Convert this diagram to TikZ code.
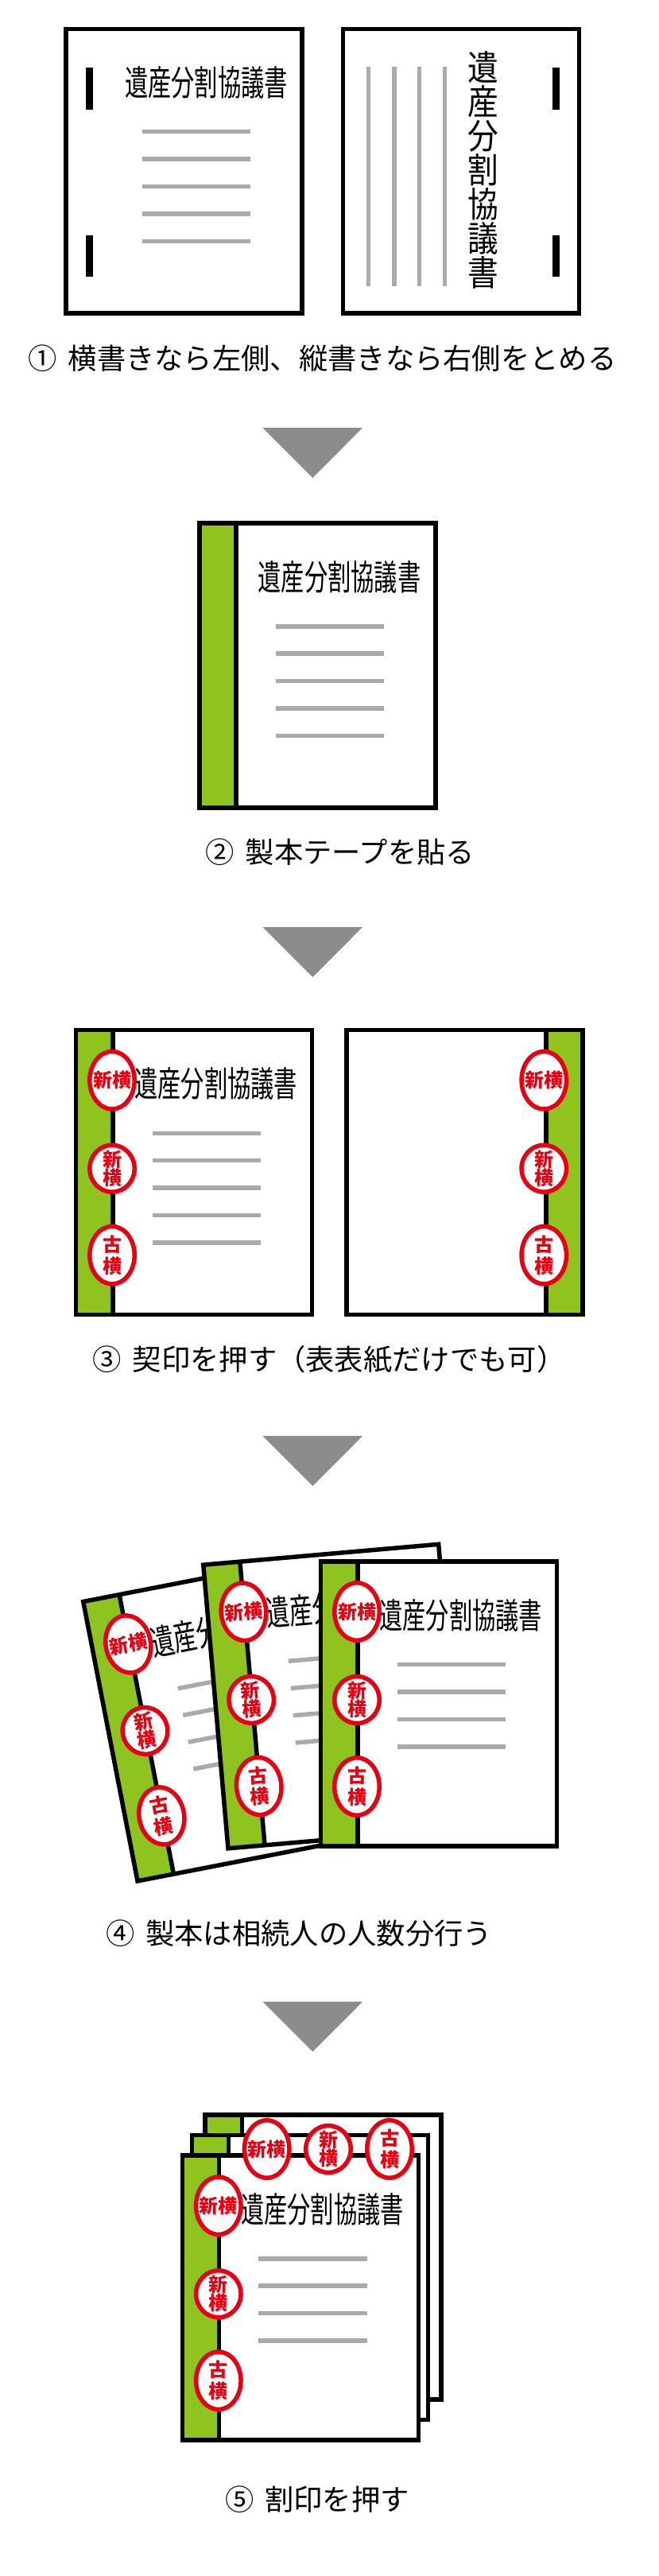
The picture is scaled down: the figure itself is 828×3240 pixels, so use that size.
\documentclass[tikz,border=0pt]{standalone}
\usepackage{fontspec}
\setmainfont{Noto Sans CJK JP}
\newfontfamily\narrowfont[FakeStretch=0.665]{Noto Sans CJK JP}
\newfontfamily\uprightfont[FakeStretch=0.88]{Noto Sans CJK JP}
\usetikzlibrary{shapes.geometric}
\definecolor{tapegreen}{HTML}{8FC31F}
\definecolor{stampred}{HTML}{E60012}
\definecolor{linegray}{HTML}{AAAAAA}
\definecolor{arrowgray}{HTML}{8C8C8C}
\tikzset{
    pageframe/.style={line width=5.5pt},
    textline/.style={linegray, line width=5.5pt},
    titlelabel/.style={inner sep=0pt, font=\fontsize{44}{44}\selectfont\narrowfont},
    captionlabel/.style={inner sep=0pt, font=\fontsize{36.3}{40}\selectfont},
    stamptall/.style={ellipse, draw=stampred, fill=white, line width=5.5pt, inner sep=0pt,
        minimum width=56.5pt, minimum height=72.5pt, transform shape},
    stampshort/.style={stamptall, minimum height=59pt},
    stampmark/.style={text=stampred, inner sep=0pt, align=center, transform shape,
        font=\fontsize{24}{23}\selectfont\bfseries},
}
% name, ring style, position, mark
\newcommand{\putstamp}[4]{
    \node[#2] (#1) at (#3) {};
    \node[stampmark] (#1mark) at (#1) {#4};
}
% tape, frame and spine of a bound copy, local origin top left
\newcommand{\bookframe}{
    \fill[white] (2.75, 2.75) rectangle (299.75, 360.75);
    \fill[tapegreen] (2.75, 2.75) rectangle (49, 360.75);
    \draw[pageframe] (2.75, 2.75) rectangle (299.75, 360.75);
    \draw[pageframe] (49, 2.75) to (49, 360.75);
}
\newcommand{\booktitle}[1]{
    \node[titlelabel, transform shape] (#1title) at (178.9, 70.4) {遺産分割協議書};
    \foreach \ly in {132.7, 167, 201.4, 235.8} {
        \draw[textline] (98.7, \ly) to (235, \ly);
    }
}
\newcommand{\bookstamps}[2]{
    \putstamp{#1a}{stamptall}{#2, 66}{\raisebox{2pt}{新横}}
    \putstamp{#1b}{stampshort}{#2, 177}{新\\横}
    \putstamp{#1c}{stamptall}{#2, 286}{古\\[4pt]横}
}
\begin{document}
\begin{tikzpicture}[x=1pt, y=-1pt]
    \useasboundingbox (0, 0) rectangle (828, 3240);
    % step 1
    \draw[pageframe] (83.05, 36.35) rectangle (380.05, 393.85);
    \fill (107.7, 85.4) rectangle (116.7, 137.6);
    \fill (107.7, 296.2) rectangle (116.7, 348);
    \node[titlelabel] (firsttitle) at (259.5, 103.7) {遺産分割協議書};
    \foreach \ly in {165.7, 200, 234.5, 268.9, 303.3} {
        \draw[textline] (179, \ly) to (315.2, \ly);
    }
    \draw[pageframe] (431.45, 36.35) rectangle (728.55, 393.85);
    \fill (694.8, 85.4) rectangle (703.8, 137.6);
    \fill (694.8, 296.2) rectangle (703.8, 348);
    \foreach \lx in {463.6, 495.8, 527.5, 559.7} {
        \draw[textline] (\lx, 83.8) to (\lx, 360.2);
    }
    \node[inner sep=0pt, align=center, font=\fontsize{44}{43}\selectfont\uprightfont] (firstupright) at (608, 214)
        {遺\\産\\分\\割\\協\\議\\書};
    \node[captionlabel] (firstcaption) at (405.5, 451) {①\hspace{14pt}横書きなら左側、縦書きなら右側をとめる};
    % arrows between the steps
    \foreach \ay in {538, 1166, 1806, 2517.5} {
        \fill[arrowgray] (330.5, \ay) -- (456.2, \ay) -- (393.3, \ay + 63) -- cycle;
    }
    % step 2
    \begin{scope}[shift={(248.2, 655.2)}]
        \bookframe
        \booktitle{second}
        \draw[textline] (98.7, 270.2) to (235, 270.2);
    \end{scope}
    \node[captionlabel] (secondcaption) at (427.7, 1072) {②\hspace{14pt}製本テープを貼る};
    % step 3
    \begin{scope}[shift={(92.9, 1292.7)}]
        \bookframe
        \booktitle{third}
        \draw[textline] (98.7, 270.2) to (235, 270.2);
        \bookstamps{thirdleft}{48.1}
    \end{scope}
    \begin{scope}[shift={(433, 1292.7)}]
        \fill[tapegreen] (253.9, 2.75) rectangle (299.75, 360.75);
        \draw[pageframe] (2.75, 2.75) rectangle (299.75, 360.75);
        \draw[pageframe] (253.9, 2.75) to (253.9, 360.75);
        \bookstamps{thirdright}{251.3}
    \end{scope}
    \node[captionlabel] (thirdcaption) at (414, 1710) {③\hspace{14pt}契印を押す（表表紙だけでも可）};
    % step 4
    \begin{scope}[shift={(101.5, 2012.3)}, rotate=11]
        \bookframe
        \booktitle{backcopy}
        \bookstamps{backcopy}{48.1}
    \end{scope}
    \begin{scope}[shift={(252.8, 1965.7)}, rotate=5]
        \bookframe
        \booktitle{midcopy}
        \bookstamps{midcopy}{48.1}
    \end{scope}
    \begin{scope}[shift={(400.9, 1961)}]
        \bookframe
        \booktitle{frontcopy}
        \bookstamps{frontcopy}{48.1}
    \end{scope}
    \node[captionlabel] (fourthcaption) at (376, 2431.5) {④\hspace{14pt}製本は相続人の人数分行う};
    % step 5
    \begin{scope}[shift={(255.3, 2657.1)}]
        \bookframe
    \end{scope}
    \begin{scope}[shift={(238.7, 2682.9)}]
        \bookframe
    \end{scope}
    \begin{scope}[shift={(226.7, 2708.2)}]
        \bookframe
        \booktitle{stack}
        \bookstamps{stack}{48.1}
    \end{scope}
    \putstamp{splita}{stamptall}{335.7, 2703}{\raisebox{2pt}{新横}}
    \putstamp{splitb}{stampshort}{413, 2703}{新\\横}
    \putstamp{splitc}{stamptall}{490, 2703}{古\\[4pt]横}
    \node[captionlabel] (fifthcaption) at (399, 3144) {⑤\hspace{14pt}割印を押す};
\end{tikzpicture}
\end{document}
